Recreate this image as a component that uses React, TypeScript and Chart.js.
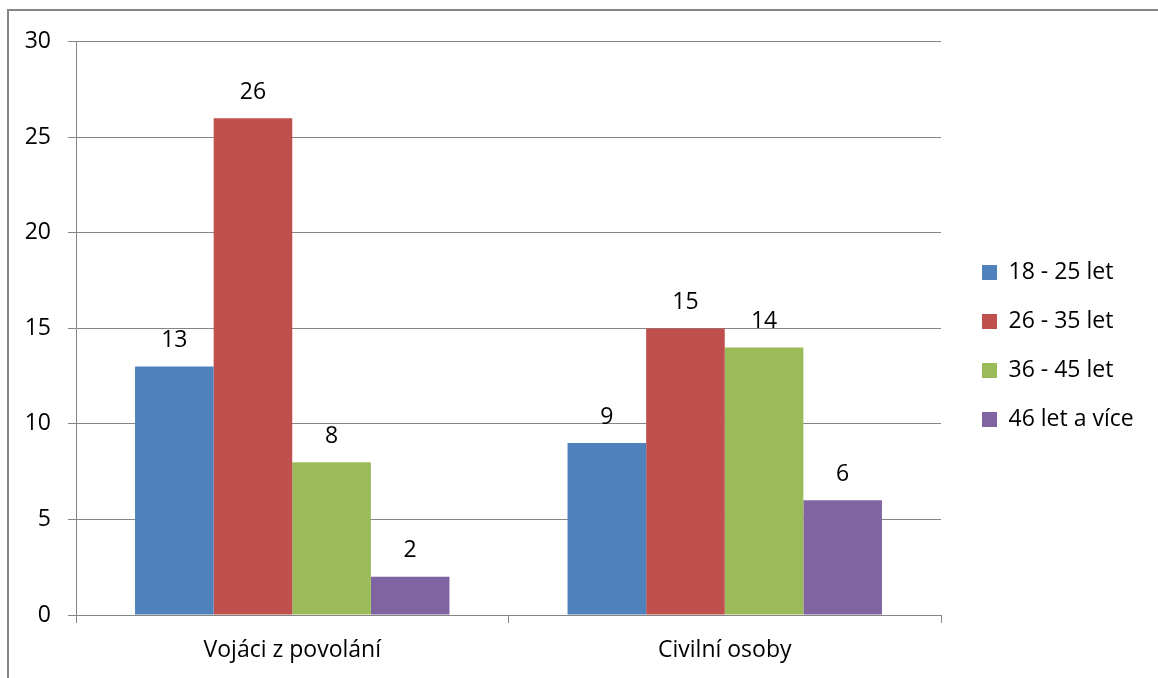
import React, { useEffect, useRef } from 'react';
import { Chart, registerables } from 'chart.js';

Chart.register(...registerables);

const categories = ['Vojáci z povolání', 'Civilní osoby'];
const seriesLabels = ['18 - 25 let', '26 - 35 let', '36 - 45 let', '46 let a více'];
const series18to25 = [13, 9];
const series26to35 = [26, 15];
const series36to45 = [8, 14];
const series46plus = [2, 6];
const seriesColors = ['#4F81BD', '#C0504D', '#9BBB59', '#8064A2'];
const yMin = 0;
const yMax = 30;
const yStep = 5;

const FAMILY = '"Open Sans", sans-serif';
const FS = 23;
const GRID = '#868686';
const CANVAS_W = 1149;
const CANVAS_H = 667;
const LEGEND_PAD = 26;
const LEGEND_BOX = 15;
const LEGEND_LEFT = 947;

const valueLabels = {
  id: 'valueLabels',
  afterDatasetsDraw(chart: any) {
    const ctx = chart.ctx;
    ctx.save();
    ctx.font = `${FS}px ${FAMILY}`;
    ctx.fillStyle = '#000';
    ctx.textAlign = 'center';
    ctx.textBaseline = 'middle';
    chart.data.datasets.forEach((ds: any, i: number) => {
      const meta = chart.getDatasetMeta(i);
      meta.data.forEach((bar: any, j: number) => {
        ctx.fillText(String(ds.data[j]), bar.x, bar.y - 26);
      });
    });
    ctx.restore();
  },
};

export default function App() {
  const ref = useRef<HTMLCanvasElement | null>(null);

  useEffect(() => {
    const canvas = ref.current;
    if (!canvas) return;
    const ctx = canvas.getContext('2d')!;
    ctx.font = `${FS}px ${FAMILY}`;
    const maxText = Math.max(...seriesLabels.map((t) => ctx.measureText(t).width));
    const legendWidth = LEGEND_PAD + LEGEND_BOX + FS / 2 + maxText + 10;
    const padRight = Math.max(0, CANVAS_W - LEGEND_LEFT - legendWidth);

    const values = [series18to25, series26to35, series36to45, series46plus];
    const chart = new Chart(canvas, {
      type: 'bar',
      data: {
        labels: categories,
        datasets: values.map((d, i) => ({
          label: seriesLabels[i],
          data: d,
          backgroundColor: seriesColors[i],
          borderWidth: 0,
          barPercentage: 1,
          categoryPercentage: 0.727,
        })),
      },
      options: {
        responsive: false,
        animation: false,
        layout: { padding: { top: 6, bottom: 3, left: 0, right: padRight } },
        plugins: {
          tooltip: { enabled: false },
          legend: {
            position: 'right',
            labels: {
              boxWidth: LEGEND_BOX,
              boxHeight: LEGEND_BOX,
              padding: LEGEND_PAD,
              color: '#000',
              font: { family: FAMILY, size: FS },
            },
          },
        },
        scales: {
          x: {
            offset: true,
            grid: {
              offset: true,
              drawOnChartArea: false,
              drawTicks: true,
              tickLength: 8,
              color: GRID,
            },
            border: { display: true, color: GRID },
            ticks: { color: '#000', padding: 14, font: { family: FAMILY, size: FS } },
            afterFit: (s: any) => {
              s.height = 60;
            },
          },
          xTopSpacer: {
            type: 'linear',
            position: 'top',
            display: true,
            grid: { display: false, drawTicks: false },
            border: { display: false },
            ticks: { display: false },
            afterFit: (s: any) => {
              s.height = 22;
            },
          },
          y: {
            min: yMin,
            max: yMax,
            ticks: {
              stepSize: yStep,
              color: '#000',
              padding: 17,
              font: { family: FAMILY, size: FS },
            },
            grid: { color: GRID, tickLength: 8 },
            border: { display: true, color: GRID },
            afterFit: (s: any) => {
              s.width = 67;
            },
          },
          ySpacer: {
            type: 'linear',
            position: 'right',
            display: true,
            grid: { display: false, drawTicks: false },
            border: { display: false },
            ticks: { display: false },
            afterFit: (s: any) => {
              s.width = LEGEND_LEFT - 932;
            },
          },
        },
      },
      plugins: [valueLabels],
    } as any);
    return () => chart.destroy();
  }, []);

  return (
    <div
      style={{
        position: 'fixed',
        left: 7,
        top: 9,
        borderTop: `2px solid ${GRID}`,
        borderLeft: `2px solid ${GRID}`,
        width: CANVAS_W,
        height: CANVAS_H,
        background: '#fff',
      }}
    >
      <canvas ref={ref} width={CANVAS_W} height={CANVAS_H} style={{ display: 'block' }} />
    </div>
  );
}
